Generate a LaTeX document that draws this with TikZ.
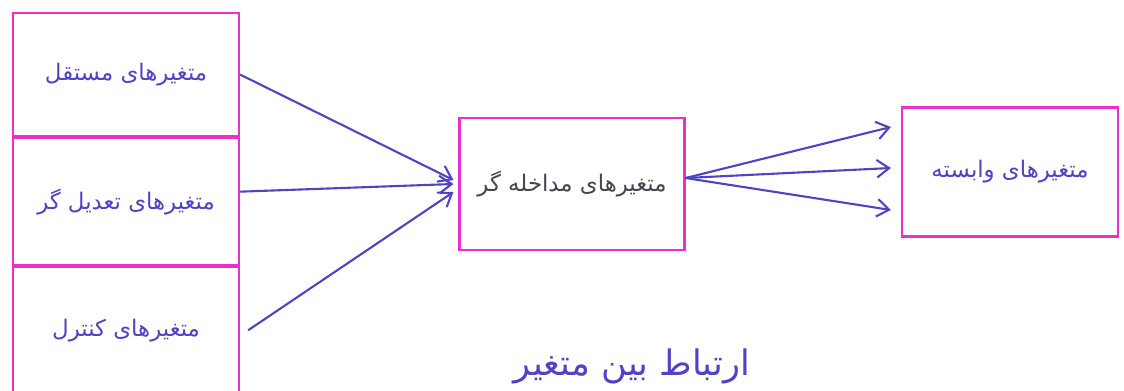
\documentclass[tikz,border=0pt]{standalone}
\usepackage{fontspec}
\newfontfamily\arabicfont[Script=Arabic]{DejaVu Sans}
\TeXXeTstate=1
\definecolor{penpink}{RGB}{232,48,208}
\definecolor{penblue}{RGB}{78,68,196}
\definecolor{pengray}{RGB}{70,70,80}
\usetikzlibrary{arrows.meta,positioning}

\begin{document}
\begin{tikzpicture}[x=0.2mm, y=-0.2mm]
    \tikzset{varbox/.style={rectangle, draw=penpink, line width=1.2pt, fill=white,
      minimum width=45.2mm, text=penblue, font=\arabicfont\fontsize{13}{15}\selectfont}}
    \tikzset{penarrow/.style={-{Straight Barb[length=7pt, width=10pt]}, penblue, line width=1.2pt}}

    \useasboundingbox (0,0) rectangle (1124,390);

    % input stack
    \node[varbox, minimum height=24.6mm, anchor=north west] (indep) at (12,12)
      {\beginR متغیرهای مستقل\endR};
    \node[varbox, minimum height=25.4mm, anchor=north] (moder) at (indep.south)
      {\beginR متغیرهای تعدیل گر\endR};
    \node[varbox, minimum height=25.2mm, anchor=north] (contr) at (moder.south)
      {\beginR متغیرهای کنترل\endR};

    % intervening and dependent
    \node[varbox, minimum width=45mm, minimum height=26.4mm, text=pengray] (interv) at (572,184)
      {\beginR متغیرهای مداخله گر\endR};
    \node[varbox, minimum width=43.2mm, minimum height=25.8mm] (dep) at (1010,172)
      {\beginR متغیرهای وابسته\endR};

    % arrows into the middle box
    \draw[penarrow] (indep.east) -- ([xshift=-1mm, yshift=0.8mm]interv.west);
    \draw[penarrow] ([yshift=2mm]moder.east) -- ([xshift=-1mm]interv.west);
    \draw[penarrow] ([xshift=1.6mm]contr.east) -- ([xshift=-1mm, yshift=-1.6mm]interv.west);

    % arrows into the dependent box
    \draw[penarrow] ([yshift=1.2mm]interv.east) -- ([xshift=-2mm, yshift=9mm]dep.west);
    \draw[penarrow] ([yshift=1.2mm]interv.east) -- ([xshift=-2mm, yshift=0.8mm]dep.west);
    \draw[penarrow] ([yshift=1.2mm]interv.east) -- ([xshift=-2mm, yshift=-7.6mm]dep.west);

    % caption at the foot
    \node[text=penblue, font=\arabicfont\fontsize{20}{24}\selectfont] (caption) at (632,366)
      {\beginR ارتباط بین متغیر\endR};
\end{tikzpicture}
\end{document}
